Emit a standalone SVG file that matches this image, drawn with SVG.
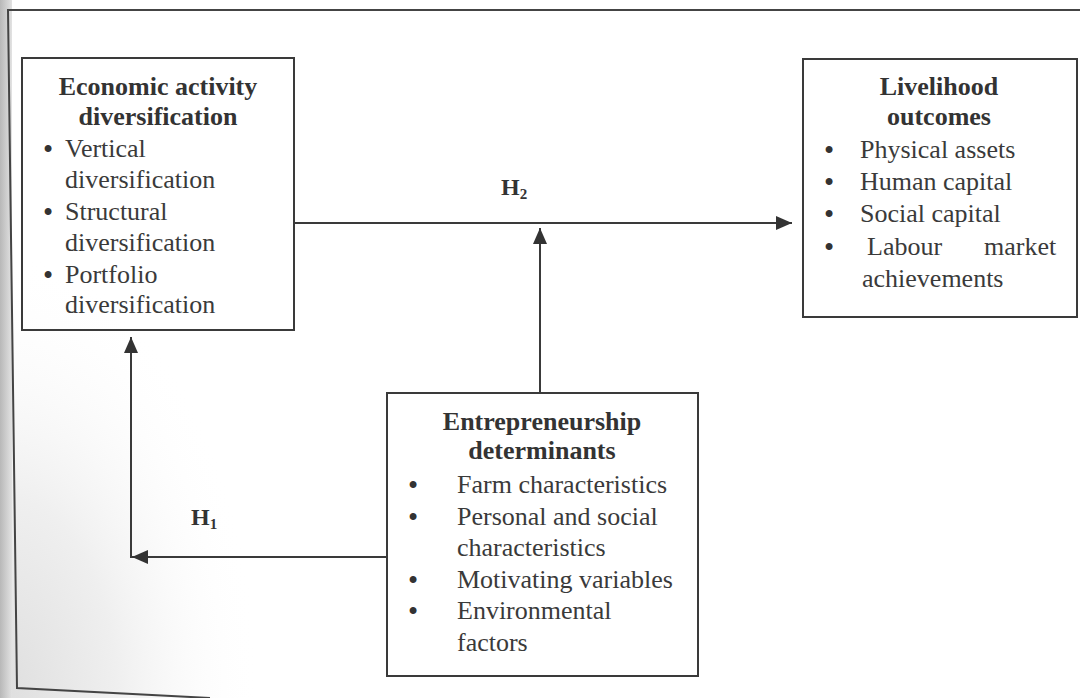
<svg xmlns="http://www.w3.org/2000/svg" width="1080" height="698" viewBox="0 0 1080 698">
  <defs>
    <linearGradient id="edge" x1="0" y1="0" x2="1" y2="0">
      <stop offset="0" stop-color="#b8b8b8"/>
      <stop offset="1" stop-color="#e2e2e2"/>
    </linearGradient>
    <radialGradient id="corner" cx="0" cy="1" r="1">
      <stop offset="0" stop-color="#dedede"/>
      <stop offset="0.45" stop-color="#efefef"/>
      <stop offset="1" stop-color="#ffffff" stop-opacity="0"/>
    </radialGradient>
    <marker id="arrow" viewBox="0 0 16 14" refX="16" refY="7" markerWidth="16" markerHeight="14" markerUnits="userSpaceOnUse" orient="auto">
      <path d="M0,0 L16,7 L0,14 Z" fill="#333"/>
    </marker>
    <style>
      .box { fill: none; stroke: #3a3a3a; stroke-width: 2; }
      .conn { fill: none; stroke: #3a3a3a; stroke-width: 2; }
      .title { font-family: "Liberation Serif", "Times New Roman", serif; font-size: 26px; font-weight: bold; fill: #333; text-anchor: middle; }
      .item { font-family: "Liberation Serif", "Times New Roman", serif; font-size: 26px; fill: #3a3a3a; }
      .bul { font-size: 29px; fill: #333; }
      .lbl { font-family: "Liberation Serif", "Times New Roman", serif; font-size: 24px; font-weight: bold; fill: #333; }
      .sub { font-size: 15px; }
    </style>
  </defs>

  <rect x="0" y="0" width="1080" height="698" fill="#ffffff"/>
  <rect x="0" y="250" width="260" height="448" fill="url(#corner)"/>
  <rect x="0" y="0" width="12" height="698" fill="url(#edge)"/>

  <!-- page frame -->
  <path d="M1080,10 L8,10 L17,688 L210,698" fill="none" stroke="#444" stroke-width="2"/>

  <g id="economic-activity-diversification">
    <rect class="box" x="22" y="58" width="272" height="272" fill="#ffffff"/>
    <text class="title" x="158" y="95">Economic activity</text>
    <text class="title" x="158" y="125">diversification</text>
    <text class="item" x="43" y="157"><tspan class="bul" dy="2">•</tspan><tspan x="65" dy="-2">Vertical</tspan></text>
    <text class="item" x="65" y="188">diversification</text>
    <text class="item" x="43" y="220"><tspan class="bul" dy="2">•</tspan><tspan x="65" dy="-2">Structural</tspan></text>
    <text class="item" x="65" y="251">diversification</text>
    <text class="item" x="43" y="283"><tspan class="bul" dy="2">•</tspan><tspan x="65" dy="-2">Portfolio</tspan></text>
    <text class="item" x="65" y="313">diversification</text>
  </g>

  <g id="livelihood-outcomes">
    <rect class="box" x="803" y="59" width="274" height="258"/>
    <text class="title" x="939" y="95">Livelihood</text>
    <text class="title" x="939" y="125">outcomes</text>
    <text class="item" x="824" y="158"><tspan class="bul" dy="2">•</tspan><tspan x="860" dy="-2">Physical assets</tspan></text>
    <text class="item" x="824" y="190"><tspan class="bul" dy="2">•</tspan><tspan x="860" dy="-2">Human capital</tspan></text>
    <text class="item" x="824" y="222"><tspan class="bul" dy="2">•</tspan><tspan x="860" dy="-2">Social capital</tspan></text>
    <text class="item" x="824" y="255"><tspan class="bul" dy="2">•</tspan><tspan x="867" dy="-2">Labour</tspan><tspan x="984">market</tspan></text>
    <text class="item" x="862" y="287">achievements</text>
  </g>

  <g id="entrepreneurship-determinants">
    <rect class="box" x="387" y="393" width="311" height="283"/>
    <text class="title" x="542" y="430">Entrepreneurship</text>
    <text class="title" x="542" y="459">determinants</text>
    <text class="item" x="408" y="493"><tspan class="bul" dy="2">•</tspan><tspan x="457" dy="-2">Farm characteristics</tspan></text>
    <text class="item" x="408" y="525"><tspan class="bul" dy="2">•</tspan><tspan x="457" dy="-2">Personal and social</tspan></text>
    <text class="item" x="457" y="556">characteristics</text>
    <text class="item" x="408" y="588"><tspan class="bul" dy="2">•</tspan><tspan x="457" dy="-2">Motivating variables</tspan></text>
    <text class="item" x="408" y="619"><tspan class="bul" dy="2">•</tspan><tspan x="457" dy="-2">Environmental</tspan></text>
    <text class="item" x="457" y="651">factors</text>
  </g>

  <g id="connectors">
    <line class="conn" x1="294" y1="223" x2="792" y2="223" marker-end="url(#arrow)"/>
    <line class="conn" x1="540" y1="393" x2="540" y2="228" marker-end="url(#arrow)"/>
    <line class="conn" x1="387" y1="557" x2="132" y2="557" marker-end="url(#arrow)"/>
    <line class="conn" x1="131" y1="558" x2="131" y2="337" marker-end="url(#arrow)"/>
    <text class="lbl" x="501" y="195">H<tspan class="sub" dy="4">2</tspan></text>
    <text class="lbl" x="191" y="525">H<tspan class="sub" dy="4">1</tspan></text>
  </g>
</svg>
